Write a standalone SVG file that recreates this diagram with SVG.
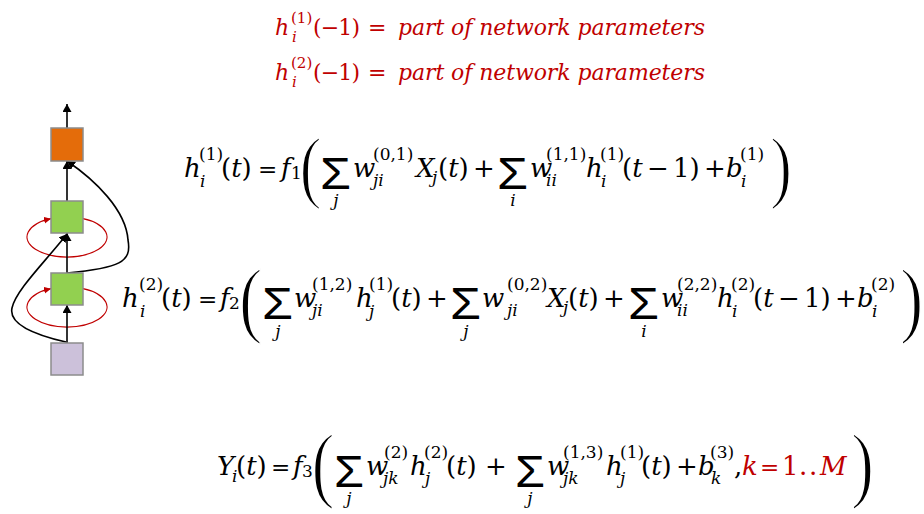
<svg xmlns="http://www.w3.org/2000/svg" width="924" height="514" viewBox="0 0 924 514">
<style>
.eq{font-family:"DejaVu Serif","Liberation Serif",serif;font-size:26px;fill:#000}
.rt{font-family:"DejaVu Serif","Liberation Serif",serif;font-size:22px;fill:#C00000}
.it{font-style:italic}
.s{font-size:17px}
.op{font-size:23px}
.rs{font-size:15px}
.red{fill:#C00000}
.sig{font-family:"Liberation Sans",sans-serif;font-size:44px;fill:#000}
.bp{font-family:"Liberation Serif",serif;fill:#000;stroke:#fff;stroke-width:1.8}
.box{stroke:#8c8c8c;stroke-width:1.5}
.ln{fill:none;stroke:#000;stroke-width:1.6}
.rl{fill:none;stroke:#C00000;stroke-width:1.2}
</style>
<defs>
<marker id="ah" markerUnits="userSpaceOnUse" markerWidth="10" markerHeight="10" refX="8" refY="4.5" orient="auto"><path d="M0,0 L8,4.5 L0,9 z" fill="#000"/></marker>
<marker id="ahr" markerUnits="userSpaceOnUse" markerWidth="9" markerHeight="9" refX="7" refY="3.5" orient="auto"><path d="M0,0 L7,3.5 L0,7 z" fill="#C00000"/></marker>
</defs>
<rect width="924" height="514" fill="#fff"/>

<g id="connectors">
<path class="rl" d="M83,218.7 A40,20 0 1 1 51,218.7" marker-end="url(#ahr)"/>
<path class="rl" d="M83,288.7 A40,20 0 1 1 51,288.7" marker-end="url(#ahr)"/>
<line class="ln" x1="67" y1="128" x2="67" y2="104" marker-end="url(#ah)"/>
<line class="ln" x1="67" y1="201" x2="67" y2="161" marker-end="url(#ah)"/>
<line class="ln" x1="67" y1="273" x2="67" y2="233" marker-end="url(#ah)"/>
<line class="ln" x1="67" y1="343" x2="67" y2="305" marker-end="url(#ah)"/>
<path class="ln" d="M66,342 C40,336 8,326 12,308 C16,290 45,262 67,234" marker-end="url(#ah)"/>
<path class="ln" d="M67,273 C120,268 132,262 128,240 C126,210 95,180 67,161" marker-end="url(#ah)"/>
</g>

<g id="node-output"><rect class="box" x="51" y="128" width="32" height="33" fill="#E46C0A"/></g>
<g id="node-hidden2"><rect class="box" x="51" y="201" width="32" height="32" fill="#92D050"/></g>
<g id="node-hidden1"><rect class="box" x="51" y="273" width="32" height="32" fill="#92D050"/></g>
<g id="node-input"><rect class="box" x="51" y="343" width="32" height="32" fill="#CCC1DA"/></g>

<g id="init1">
<text class="rt"><tspan x="275" y="35" class="it">h</tspan><tspan x="291" y="23" class="rs">(1)</tspan><tspan x="292" y="42" class="rs it">i</tspan><tspan x="313" y="35" textLength="47">(−1)</tspan><tspan x="368" y="35">=</tspan><tspan x="398" y="35" class="it" textLength="307">part of network parameters</tspan></text>
</g>
<g id="init2">
<text class="rt"><tspan x="275" y="80" class="it">h</tspan><tspan x="291" y="68" class="rs">(2)</tspan><tspan x="292" y="87" class="rs it">i</tspan><tspan x="313" y="80" textLength="47">(−1)</tspan><tspan x="368" y="80">=</tspan><tspan x="398" y="80" class="it" textLength="307">part of network parameters</tspan></text>
</g>

<g id="eq1">
<text class="eq"><tspan x="184" y="177" class="it">h</tspan><tspan x="199" y="160" class="s">(1)</tspan><tspan x="200" y="187" class="s it">i</tspan><tspan x="221" y="177">(<tspan class="it">t</tspan>)</tspan><tspan x="258" y="177" class="op">=</tspan><tspan x="281" y="177" class="it">f</tspan><tspan x="291" y="179" class="s">1</tspan><tspan x="353" y="177" class="it">w</tspan><tspan x="373" y="160" class="s">(0,1)</tspan><tspan x="373" y="186" class="s it">ji</tspan><tspan x="416" y="177" class="it">X</tspan><tspan x="432" y="183" class="s it">j</tspan><tspan x="438" y="177">(<tspan class="it">t</tspan>)</tspan><tspan x="473" y="177">+</tspan><tspan x="530" y="177" class="it">w</tspan><tspan x="546" y="160" class="s">(1,1)</tspan><tspan x="546" y="186" class="s it">ii</tspan><tspan x="586" y="177" class="it">h</tspan><tspan x="600" y="160" class="s">(1)</tspan><tspan x="601" y="187" class="s it">i</tspan><tspan x="622" y="177">(<tspan class="it">t</tspan></tspan><tspan x="647" y="177">−</tspan><tspan x="673" y="177">1)</tspan><tspan x="704" y="177">+</tspan><tspan x="726" y="177" class="it">b</tspan><tspan x="740" y="160" class="s">(1)</tspan><tspan x="741" y="187" class="s it">i</tspan></text>
<text class="sig" x="320" y="189" textLength="31" lengthAdjust="spacingAndGlyphs">Σ</text>
<text class="sig" x="497" y="189" textLength="31" lengthAdjust="spacingAndGlyphs">Σ</text>
<text class="eq s it" x="336" y="206" text-anchor="middle">j</text>
<text class="eq s it" x="513" y="206" text-anchor="middle">i</text>
<text class="bp" font-size="81" transform="translate(299.5,192.8) scale(0.82,1)">(</text>
<text class="bp" font-size="81" transform="translate(770,192.8) scale(0.82,1)">)</text>
</g>

<g id="eq2">
<text class="eq"><tspan x="122" y="307" class="it">h</tspan><tspan x="139" y="290" class="s">(2)</tspan><tspan x="140" y="317" class="s it">i</tspan><tspan x="161" y="307">(<tspan class="it">t</tspan>)</tspan><tspan x="198" y="307" class="op">=</tspan><tspan x="220" y="307" class="it">f</tspan><tspan x="229" y="309" class="s">2</tspan><tspan x="294" y="307" class="it">w</tspan><tspan x="312" y="290" class="s">(1,2)</tspan><tspan x="312" y="316" class="s it">ji</tspan><tspan x="356" y="307" class="it">h</tspan><tspan x="369" y="290" class="s">(1)</tspan><tspan x="369" y="317" class="s it">j</tspan><tspan x="391" y="307">(<tspan class="it">t</tspan>)</tspan><tspan x="426" y="307">+</tspan><tspan x="482" y="307" class="it">w</tspan><tspan x="507" y="290" class="s">(0,2)</tspan><tspan x="507" y="316" class="s it">ji</tspan><tspan x="547" y="307" class="it">X</tspan><tspan x="563" y="313" class="s it">j</tspan><tspan x="568" y="307">(<tspan class="it">t</tspan>)</tspan><tspan x="603" y="307">+</tspan><tspan x="661" y="307" class="it">w</tspan><tspan x="677" y="290" class="s">(2,2)</tspan><tspan x="677" y="316" class="s it">ii</tspan><tspan x="717" y="307" class="it">h</tspan><tspan x="731" y="290" class="s">(2)</tspan><tspan x="732" y="317" class="s it">i</tspan><tspan x="753" y="307">(<tspan class="it">t</tspan></tspan><tspan x="778" y="307">−</tspan><tspan x="804" y="307">1)</tspan><tspan x="835" y="307">+</tspan><tspan x="857" y="307" class="it">b</tspan><tspan x="871" y="290" class="s">(2)</tspan><tspan x="872" y="317" class="s it">i</tspan></text>
<text class="sig" x="262" y="319" textLength="31" lengthAdjust="spacingAndGlyphs">Σ</text>
<text class="sig" x="450" y="319" textLength="31" lengthAdjust="spacingAndGlyphs">Σ</text>
<text class="sig" x="628" y="319" textLength="31" lengthAdjust="spacingAndGlyphs">Σ</text>
<text class="eq s it" x="278" y="337" text-anchor="middle">j</text>
<text class="eq s it" x="466" y="337" text-anchor="middle">j</text>
<text class="eq s it" x="644" y="337" text-anchor="middle">i</text>
<text class="bp" font-size="85.6" transform="translate(239,326.9) scale(0.82,1)">(</text>
<text class="bp" font-size="85.6" transform="translate(900,326.9) scale(0.82,1)">)</text>
</g>

<g id="eq3">
<text class="eq"><tspan x="217" y="475" class="it">Y</tspan><tspan x="232" y="482" class="s it">i</tspan><tspan x="236" y="475">(<tspan class="it">t</tspan>)</tspan><tspan x="271" y="475" class="op">=</tspan><tspan x="293" y="475" class="it">f</tspan><tspan x="302" y="477" class="s">3</tspan><tspan x="366" y="475" class="it">w</tspan><tspan x="384" y="458" class="s">(2)</tspan><tspan x="383" y="484" class="s it">jk</tspan><tspan x="410" y="475" class="it">h</tspan><tspan x="424" y="458" class="s">(2)</tspan><tspan x="425" y="484" class="s it">j</tspan><tspan x="446" y="475">(<tspan class="it">t</tspan>)</tspan><tspan x="485" y="475">+</tspan><tspan x="547" y="475" class="it">w</tspan><tspan x="563" y="458" class="s">(1,3)</tspan><tspan x="563" y="484" class="s it">jk</tspan><tspan x="606" y="475" class="it">h</tspan><tspan x="620" y="458" class="s">(1)</tspan><tspan x="620" y="484" class="s it">j</tspan><tspan x="641" y="475">(<tspan class="it">t</tspan>)</tspan><tspan x="676" y="475">+</tspan><tspan x="698" y="475" class="it">b</tspan><tspan x="710" y="458" class="s">(3)</tspan><tspan x="711" y="484" class="s it">k</tspan><tspan x="734" y="475">,</tspan><tspan x="742" y="475" class="it red">k</tspan><tspan x="760" y="475" class="red op">=</tspan><tspan x="782" y="475" class="red">1</tspan><tspan x="799" y="475" class="red">.</tspan><tspan x="809" y="475" class="red">.</tspan><tspan x="820" y="475" class="it red">M</tspan></text>
<text class="sig" x="334" y="487" textLength="30" lengthAdjust="spacingAndGlyphs">Σ</text>
<text class="sig" x="515" y="487" textLength="30" lengthAdjust="spacingAndGlyphs">Σ</text>
<text class="eq s it" x="349" y="504" text-anchor="middle">j</text>
<text class="eq s it" x="530" y="504" text-anchor="middle">j</text>
<text class="bp" font-size="84.4" transform="translate(311.5,492.1) scale(0.82,1)">(</text>
<text class="bp" font-size="84.4" transform="translate(851,492.1) scale(0.82,1)">)</text>
</g>
</svg>
